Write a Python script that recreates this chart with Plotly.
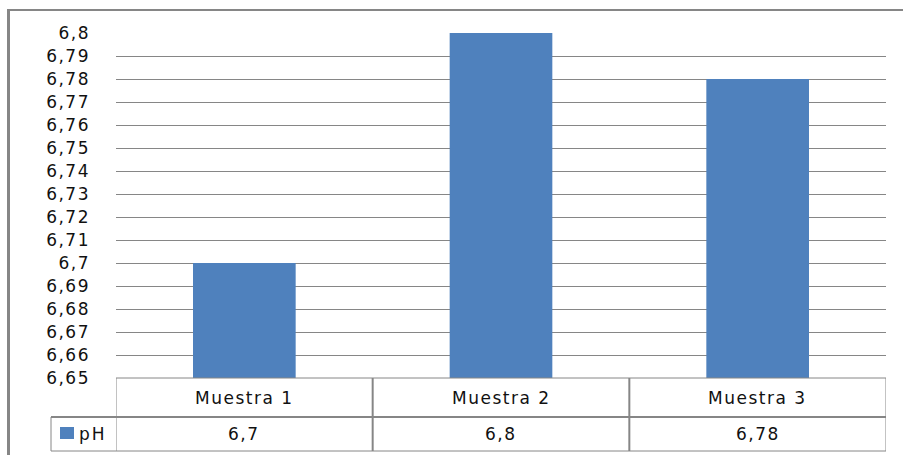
import plotly.graph_objects as go

# Sample pH measurements
categories = ["Muestra 1", "Muestra 2", "Muestra 3"]
ph_values = [6.7, 6.8, 6.78]
series_name = "pH"
y_ticks = [round(6.65 + 0.01 * k, 2) for k in range(16)]

W, H = 903, 455
BAR_COLOR = "#4F81BD"
LINE_COLOR = "#868686"
FONT = "DejaVu Sans"
FS = 17


def px(x):
    return x / W


def py(y):
    return 1 - y / H


def fmt(v):
    return f"{v:g}".replace(".", ",")


def spaced(s, sp=1.5):
    return f'<span style="letter-spacing:{sp}px">{s}</span>'


fig = go.Figure(
    go.Bar(
        x=list(range(len(categories))),
        y=ph_values,
        name=series_name,
        marker=dict(color=BAR_COLOR, line=dict(width=0)),
        showlegend=False,
    )
)

# table rows below the plot: category labels and values
row_top, row_mid, row_bot = 378, 417, 451
shapes = []
for i in range(len(categories) + 1):
    x = i - 0.5
    shapes.append(dict(type="line", xref="x", yref="paper", x0=x, x1=x,
                       y0=py(row_top), y1=py(row_bot),
                       line=dict(color=LINE_COLOR, width=1 if i in (0, len(categories)) else 2)))
for y, x0, w in [(row_top, 116, 1), (row_mid, 51, 2), (row_bot, 51, 1)]:
    shapes.append(dict(type="line", xref="paper", yref="paper",
                       x0=px(x0), x1=px(886), y0=py(y), y1=py(y),
                       line=dict(color=LINE_COLOR, width=w)))
# legend cell
shapes.append(dict(type="line", xref="paper", yref="paper", x0=px(51), x1=px(51),
                   y0=py(row_mid), y1=py(row_bot), line=dict(color=LINE_COLOR, width=1)))
shapes.append(dict(type="rect", xref="paper", yref="paper", x0=px(60), x1=px(74),
                   y0=py(427), y1=py(439), fillcolor=BAR_COLOR, line=dict(width=0)))
# outer chart frame (left and top edges)
shapes.append(dict(type="line", xref="paper", yref="paper", x0=px(8.5), x1=px(8.5),
                   y0=py(9), y1=0, line=dict(color=LINE_COLOR, width=3)))
shapes.append(dict(type="line", xref="paper", yref="paper", x0=px(7), x1=1,
                   y0=py(10), y1=py(10), line=dict(color=LINE_COLOR, width=2)))

txt_font = dict(family=FONT, size=FS, color="#111111")
annotations = []
for i, (c, v) in enumerate(zip(categories, ph_values)):
    annotations.append(dict(x=i, xref="x", y=py((row_top + row_mid) / 2), yref="paper",
                            xanchor="center", yanchor="middle",
                            text=spaced(c), showarrow=False, font=txt_font))
    annotations.append(dict(x=i, xref="x", y=py((row_mid + row_bot) / 2), yref="paper",
                            xanchor="center", yanchor="middle",
                            text=spaced(fmt(v)), showarrow=False, font=txt_font))
annotations.append(dict(x=px(77), xref="paper", y=py(434), yref="paper",
                        xanchor="left", yanchor="middle",
                        text=spaced(series_name, 2), showarrow=False, font=txt_font))

fig.update_layout(
    width=W, height=H,
    margin=dict(l=0, r=0, t=0, b=0, pad=0, autoexpand=False),
    paper_bgcolor="white", plot_bgcolor="white",
    separators=",.",
    bargap=0.6,
    font=dict(family=FONT, size=FS, color="#111111"),
    xaxis=dict(domain=[px(116), px(886)], range=[-0.5, len(categories) - 0.5],
               showticklabels=False, showgrid=False, zeroline=False, showline=False,
               automargin=False, fixedrange=True),
    yaxis=dict(domain=[py(378), py(33)], range=[6.65, 6.8], tickmode="array",
               tickvals=y_ticks, ticktext=[spaced(fmt(t)) for t in y_ticks],
               showgrid=True, gridcolor=LINE_COLOR, gridwidth=1, zeroline=False,
               showline=False, ticks="", ticklabelstandoff=25, automargin=False,
               tickfont=txt_font),
    shapes=shapes,
    annotations=annotations,
)

fig.write_html("out.html")
